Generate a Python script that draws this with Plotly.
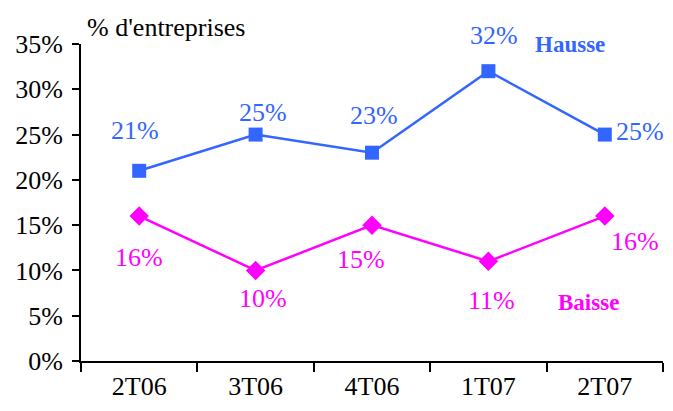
import plotly.graph_objects as go

quarters = ["2T06", "3T06", "4T06", "1T07", "2T07"]
hausse = [21, 25, 23, 32, 25]
baisse = [16, 10, 15, 11, 16]

BLUE = "#3366ff"
MAGENTA = "#ff00ff"
FONT = "Liberation Serif"

# décalages des étiquettes (px) : (xshift, yshift)
hausse_shift = [(-4, 40), (7, 22), (2, 37), (6, 36), (35, 3)]
baisse_shift = [(0, -41), (7, -28), (-11, -34), (3, -39), (30, -25)]

fig = go.Figure()
fig.add_trace(go.Scatter(
    x=quarters, y=hausse, mode="lines+markers", name="Hausse",
    line={"color": BLUE, "width": 2.5},
    marker={"symbol": "square", "size": 14, "color": BLUE},
))
fig.add_trace(go.Scatter(
    x=quarters, y=baisse, mode="lines+markers", name="Baisse",
    line={"color": MAGENTA, "width": 2.5},
    marker={"symbol": "diamond", "size": 15, "color": MAGENTA},
))

for q, v, (dx, dy) in zip(quarters, hausse, hausse_shift):
    fig.add_annotation(x=q, y=v, text=f"{v}%", showarrow=False,
                       xshift=dx, yshift=dy, font={"color": BLUE, "size": 26, "family": FONT})
for q, v, (dx, dy) in zip(quarters, baisse, baisse_shift):
    fig.add_annotation(x=q, y=v, text=f"{v}%", showarrow=False,
                       xshift=dx, yshift=dy, font={"color": MAGENTA, "size": 26, "family": FONT})

fig.add_annotation(x=3.7, y=34.9, text="<b>Hausse</b>", showarrow=False,
                   font={"color": BLUE, "size": 23, "family": FONT})
fig.add_annotation(x=3.86, y=6.5, text="<b>Baisse</b>", showarrow=False,
                   font={"color": MAGENTA, "size": 23, "family": FONT})
fig.add_annotation(x=0, y=1, xref="paper", yref="paper", xanchor="left", yanchor="bottom",
                   xshift=4, yshift=0, text="% d'entreprises", showarrow=False,
                   font={"color": "black", "size": 26, "family": FONT})

# la page ajoute une marge de 8 px autour de la figure
fig.update_layout(
    width=665, height=395,
    margin={"l": 73, "r": 10, "t": 36, "b": 42},
    plot_bgcolor="white", paper_bgcolor="white",
    showlegend=False,
    font={"family": FONT, "size": 26, "color": "black"},
)
fig.update_xaxes(
    range=[-0.5, 4.5], showline=True, linecolor="black", linewidth=2,
    ticks="outside", tickson="boundaries", ticklen=9, tickwidth=2, tickcolor="black",
    showgrid=False, zeroline=False, ticklabelstandoff=1, automargin=False,
)
fig.update_yaxes(
    range=[0, 35], dtick=5, ticksuffix="%", showline=True, linecolor="black", linewidth=2,
    ticks="outside", ticklen=7, tickwidth=2, tickcolor="black",
    showgrid=False, zeroline=False, ticklabelstandoff=4, automargin=False,
)

fig.write_html("out.html")
